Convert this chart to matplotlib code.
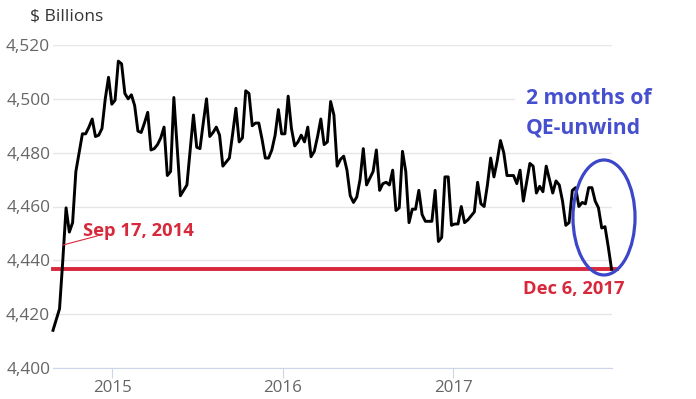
import pandas as pd
import matplotlib
matplotlib.use("Agg")
import matplotlib.pyplot as plt
from matplotlib.patches import Ellipse
from matplotlib.lines import Line2D

plt.rcParams['font.family'] = ['Open Sans', 'DejaVu Sans']

# weekly Fed balance sheet total, $ billions
dates = pd.date_range('2014-08-27', periods=172, freq='7D')
values = [
    4414, 4418, 4422, 4440, 4459.5, 4450.5, 4454, 4473, 4480, 4487,
    4487, 4489.5, 4492.5, 4486, 4486.5, 4489, 4500, 4508, 4498, 4499.5,
    4514, 4513, 4502, 4500, 4501.5, 4497.5, 4488, 4487.5, 4491, 4495,
    4481, 4481.5, 4483, 4485.5, 4489.5, 4471.5, 4473, 4500.5, 4482, 4464,
    4466, 4468, 4481, 4494, 4482, 4481.5, 4491, 4500, 4486, 4487.5,
    4489.5, 4486.5, 4475, 4476.5, 4478, 4487, 4496.5, 4484, 4485.5, 4503,
    4502, 4490, 4491, 4491, 4485, 4478, 4478, 4481, 4486.5, 4496,
    4487, 4487, 4501, 4489, 4482.5, 4484, 4486.5, 4484, 4489.5, 4478.5,
    4480.5, 4486, 4492.5, 4483, 4484, 4499, 4494, 4475, 4477.5, 4478.7,
    4473.5, 4464, 4461.5, 4463.5, 4470, 4481.5, 4468, 4470.5, 4473, 4481,
    4466, 4468.5, 4469, 4468, 4473.5, 4458.5, 4459.5, 4480.5, 4473, 4454,
    4459, 4459, 4466, 4457, 4454.5, 4454.5, 4454.5, 4466, 4447, 4448.5,
    4471, 4471, 4453, 4453.5, 4453.5, 4460, 4454, 4455, 4456.5, 4458,
    4469, 4461, 4460, 4468, 4478, 4471, 4477, 4484.5, 4480, 4471.5,
    4471.5, 4471.5, 4468.5, 4473.5, 4462, 4469, 4476, 4475, 4465, 4467.5,
    4465.5, 4475, 4470, 4465, 4469.5, 4468, 4462, 4453, 4454, 4466,
    4467, 4460, 4461.5, 4461, 4467, 4467, 4462, 4459.5, 4452, 4452.5,
    4445, 4436.7,
]
y_ticks = [4400, 4420, 4440, 4460, 4480, 4500, 4520]
years = [2015, 2016, 2017]

W, H = 696, 399
fig = plt.figure(figsize=(W / 100, H / 100), dpi=100)
ax = fig.add_axes([53 / W, 1 - 368 / H, 559 / W, 323 / H])

ax.plot(dates, values, color='black', lw=2.1, zorder=3, clip_on=False)
# level line at the latest value
ax.axhline(values[-1], xmin=0, xmax=(617 - 53) / 559, color='#d8283c', lw=2.8,
           zorder=2, clip_on=False)

ax.set_ylim(4400, 4520)
ax.set_xlim(pd.Timestamp('2014-08-27'), pd.Timestamp('2017-12-07'))
ax.set_yticks(y_ticks)
ax.set_yticklabels([f'{v:,}' for v in y_ticks])
ax.set_xticks([pd.Timestamp(f'{y}-01-01') for y in years])
ax.set_xticklabels([str(y) for y in years])

ax.grid(axis='y', color='#e6e6e6', lw=1, zorder=0)
for s in ['top', 'right', 'left']:
    ax.spines[s].set_visible(False)
ax.spines['bottom'].set_color('#ccd6eb')
ax.tick_params(axis='y', length=0, pad=2, labelcolor='#666666', labelsize=12.4)
ax.tick_params(axis='x', length=7, color='#ccd6eb', pad=2, labelcolor='#666666',
               labelsize=12.2)

fig.text(30 / W, 1 - 16 / H, '$ Billions', ha='left', va='center', color='#333333',
         fontsize=12.5)

red = '#d8283c'
blue = '#4650cf'
fig.text(83 / W, 1 - 231 / H, 'Sep 17, 2014', ha='left', va='center', color=red,
         fontsize=13.2, fontweight='bold')
fig.add_artist(Line2D([63 / W, 97 / W], [1 - 245 / H, 1 - 236 / H], color=red, lw=0.8))
fig.text(523 / W, 1 - 289 / H, 'Dec 6, 2017', ha='left', va='center', color=red,
         fontsize=13.2, fontweight='bold')

fig.text(526 / W, 1 - 98 / H, '2 months of', ha='left', va='center', color=blue,
         fontsize=15.2, fontweight='bold',
         bbox=dict(fc='white', ec='none', pad=8))
fig.text(526 / W, 1 - 128 / H, 'QE-unwind', ha='left', va='center', color=blue,
         fontsize=15.2, fontweight='bold')

ax.add_patch(Ellipse((0.9857, 0.466), 0.111, 0.356, transform=ax.transAxes,
                     fill=False, ec='#3c46c8', lw=2.3, clip_on=False, zorder=4))

fig.savefig('out.png', dpi=100)
